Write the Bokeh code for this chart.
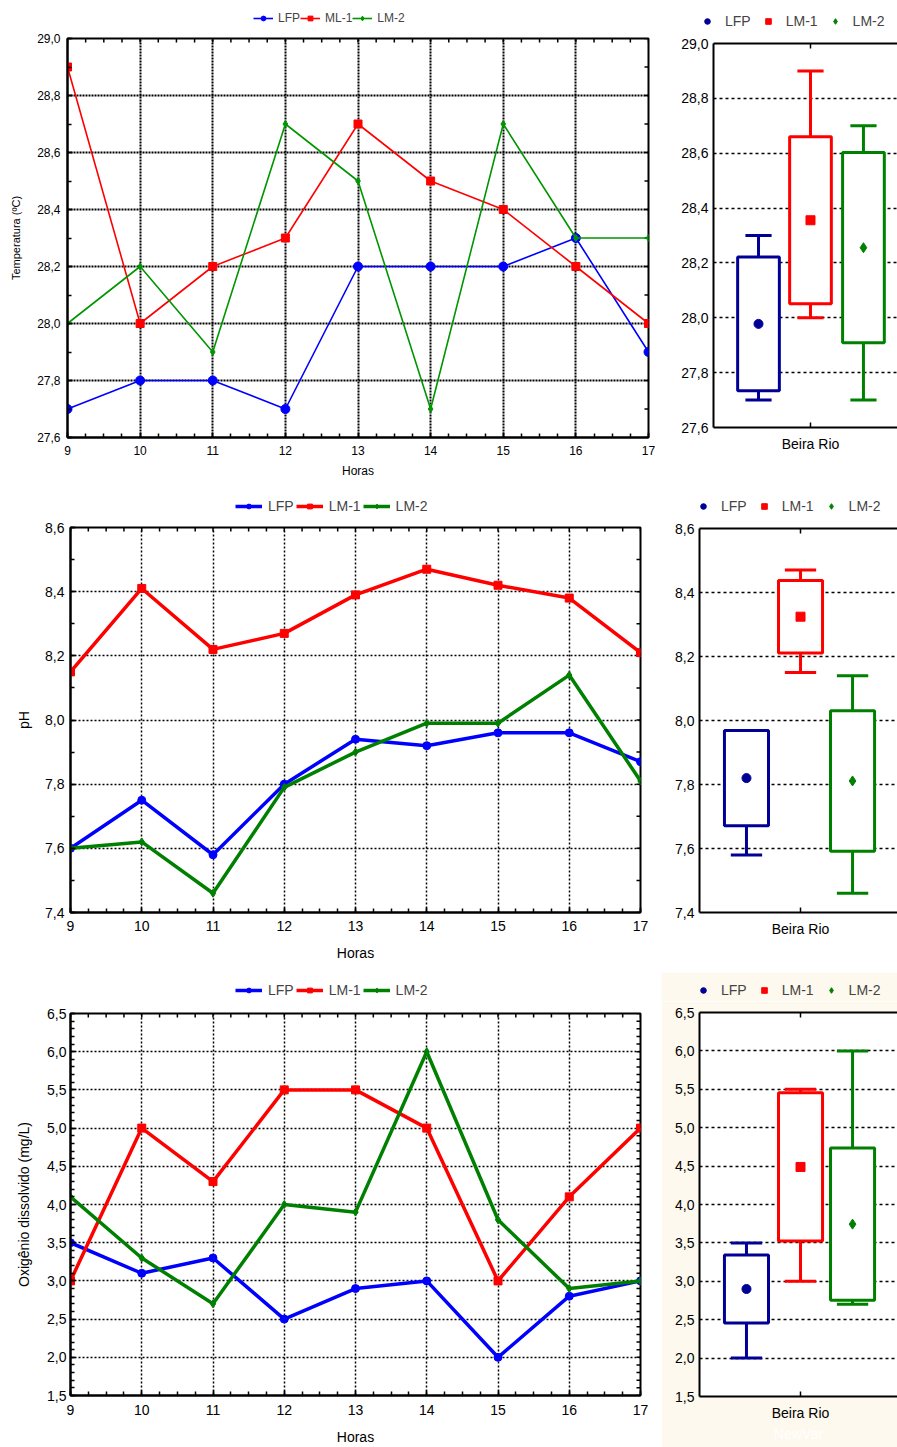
import numpy as np
from bokeh.plotting import figure
from bokeh.models import (FixedTicker, CustomJSTickFormatter, LinearAxis, Grid,
                          Legend, LegendItem, Range1d)
from bokeh.layouts import row, column
from bokeh.embed import file_html
from bokeh.resources import INLINE

# ---------------------------------------------------------------- data
hours = [9, 10, 11, 12, 13, 14, 15, 16, 17]
site = "Beira Rio"
series_names = ["LFP", "LM-1", "LM-2"]
temp_names = ["LFP", "ML-1", "LM-2"]

temp_lfp = [27.7, 27.8, 27.8, 27.7, 28.2, 28.2, 28.2, 28.3, 27.9]
temp_lm1 = [28.9, 28.0, 28.2, 28.3, 28.7, 28.5, 28.4, 28.2, 28.0]
temp_lm2 = [28.0, 28.2, 27.9, 28.7, 28.5, 27.7, 28.7, 28.3, 28.3]

ph_lfp = [7.60, 7.75, 7.58, 7.80, 7.94, 7.92, 7.96, 7.96, 7.87]
ph_lm1 = [8.15, 8.41, 8.22, 8.27, 8.39, 8.47, 8.42, 8.38, 8.21]
ph_lm2 = [7.60, 7.62, 7.46, 7.79, 7.90, 7.99, 7.99, 8.14, 7.81]

od_lfp = [3.5, 3.1, 3.3, 2.5, 2.9, 3.0, 2.0, 2.8, 3.0]
od_lm1 = [3.0, 5.0, 4.3, 5.5, 5.5, 5.0, 3.0, 4.1, 5.0]
od_lm2 = [4.1, 3.3, 2.7, 4.0, 3.9, 6.0, 3.8, 2.9, 3.0]

# ---------------------------------------------------------------- style
FONT = "Liberation Sans"
COMMA = "return tick.toFixed(1).replace('.', ',');"
INT = "return tick.toFixed(0);"
CREAM = "#fdf9ee"
NAN = float("nan")


def steps(start, stop, step):
    n = int(round((stop - start) / step))
    return [round(start + i * step, 4) for i in range(n + 1)]


def style_axis(ax, font_size, tick_in, minor_in, line_w):
    ax.axis_line_color = "black"
    ax.axis_line_width = line_w
    ax.major_tick_line_color = "black"
    ax.minor_tick_line_color = "black"
    ax.major_tick_line_width = 1.5
    ax.minor_tick_line_width = 1.5
    ax.major_tick_in = tick_in
    ax.major_tick_out = 0
    ax.minor_tick_in = minor_in
    ax.minor_tick_out = 0
    ax.major_label_text_font = FONT
    ax.major_label_text_font_size = font_size
    ax.major_label_text_color = "black"
    ax.axis_label_text_font = FONT
    ax.axis_label_text_font_style = "normal"
    ax.axis_label_text_color = "black"


def inward_ticks(p, xs, ys, length, angle):
    # short tick marks pointing into the frame from the top / right edges
    p.ray(x=xs, y=ys, length=length, angle=angle, length_units="screen",
          line_color="black", line_width=1.5)


def new_figure(cfg, x_range, br):
    p = figure(width=cfg["w"], height=cfg["h"] - cfg["lh"], x_range=x_range,
               y_range=Range1d(cfg["y0"], cfg["y1"]),
               x_axis_type=None, y_axis_type=None,
               output_backend="svg", toolbar_location=None,
               min_border_left=cfg["bl"], min_border_right=br,
               min_border_top=cfg["bt"], min_border_bottom=cfg["bb"])
    p.frame_align = False
    p.background_fill_color = "white"
    p.border_fill_color = cfg.get("bg", "white")
    return p


def legend_strip(cfg, entries, leg_kw):
    """Key strip drawn above a panel; each entry lists glyph styles for one series."""
    s = figure(width=cfg["w"], height=cfg["lh"], x_range=Range1d(0, 1),
               y_range=Range1d(0, 1), x_axis_type=None, y_axis_type=None,
               output_backend="svg", toolbar_location=None,
               min_border_left=0, min_border_right=0, min_border_top=0, min_border_bottom=0)
    s.frame_align = False
    s.outline_line_color = None
    s.background_fill_color = cfg.get("bg", "white")
    s.border_fill_color = cfg.get("bg", "white")
    s.grid.visible = False
    items = []
    for name, glyphs in entries:
        rs = []
        for kind, kw in glyphs:
            # key swatches only: a single undefined point, nothing plotted
            if kind == "line":
                rs.append(s.line(x=[NAN], y=[NAN], **kw))
            else:
                rs.append(s.scatter(x=[NAN], y=[NAN], **kw))
        items.append(LegendItem(label=name, renderers=rs))
    leg = Legend(items=items, orientation="horizontal",
                 label_text_font=FONT, padding=2, margin=0,
                 border_line_alpha=0, background_fill_alpha=0, **leg_kw)
    s.add_layout(leg, "center")
    return s


def line_chart(vals, names, colors, markers, sizes, cfg):
    p = new_figure(cfg, Range1d(hours[0], hours[-1]), cfg["br"])
    p.outline_line_color = "black"
    p.outline_line_width = cfg["frame_w"]

    x_minor = steps(hours[0], hours[-1], 0.25)
    y_major = steps(cfg["y0"], cfg["y1"], cfg["major"])
    y_minor = steps(cfg["y0"], cfg["y1"], cfg["minor"])
    xt = FixedTicker(ticks=hours, minor_ticks=x_minor)
    yt = FixedTicker(ticks=y_major, minor_ticks=y_minor)
    fs = cfg["fs"]

    xb = LinearAxis(ticker=xt, formatter=CustomJSTickFormatter(code=INT))
    style_axis(xb, fs, 5, 4, cfg["frame_w"])
    xb.axis_label = "Horas"
    xb.axis_label_text_font_size = fs
    xb.major_label_standoff = cfg["x_std"]
    xb.axis_label_standoff = cfg["xl_std"]
    p.add_layout(xb, "below")

    yl = LinearAxis(ticker=yt, formatter=CustomJSTickFormatter(code=COMMA))
    style_axis(yl, fs, 5, 4, cfg["frame_w"])
    yl.axis_label = cfg["ylabel"]
    yl.axis_label_text_font_size = cfg["yl_fs"]
    yl.major_label_standoff = cfg["y_std"]
    yl.axis_label_standoff = cfg["yl_std"]
    p.add_layout(yl, "left")

    for dim, tk in ((0, xt), (1, yt)):
        p.add_layout(Grid(dimension=dim, ticker=tk, grid_line_color="black",
                          grid_line_width=cfg["grid_w"],
                          grid_line_dash=cfg["grid_dash"]))

    inward_ticks(p, x_minor, [cfg["y1"]] * len(x_minor), 4, -np.pi / 2)
    inward_ticks(p, [hours[-1]] * len(y_minor), y_minor, 4, np.pi)

    entries = []
    for v, name, c, m, s in zip(vals, names, colors, markers, sizes):
        p.line(hours, v, line_color=c, line_width=cfg["lw"])
        p.scatter(hours, v, marker=m, size=s, fill_color=c, line_color=c)
        entries.append((name, [("line", dict(line_color=c, line_width=cfg["lw"])),
                               ("scatter", dict(marker=m, size=s, fill_color=c,
                                                line_color=c))]))

    strip = legend_strip(cfg, entries, dict(
        location=cfg["leg_loc"], label_text_font_size=cfg["leg_fs"],
        glyph_width=cfg["glyph_w"], glyph_height=12,
        label_height=cfg["leg_lh"], label_standoff=cfg["leg_std"],
        spacing=cfg["leg_sp"]))
    return column(strip, p)


def box_chart(vals, colors, markers, sizes, cfg):
    p = new_figure(cfg, Range1d(-1, cfg["xr"]), 0)
    p.outline_line_color = None

    yt = FixedTicker(ticks=steps(cfg["y0"], cfg["y1"], cfg["major"]), minor_ticks=[])
    ct = FixedTicker(ticks=[0], minor_ticks=[])
    fs = "14px"

    yl = LinearAxis(ticker=yt, formatter=CustomJSTickFormatter(code=COMMA))
    style_axis(yl, fs, 0, 0, 2)
    yl.major_label_standoff = 5
    p.add_layout(yl, "left")

    xb = LinearAxis(ticker=ct, major_label_overrides={0: site})
    style_axis(xb, fs, 5, 0, 2)
    xb.major_label_standoff = 8
    if cfg.get("xlabel"):
        xb.axis_label = cfg["xlabel"]
        xb.axis_label_text_color = "white"
        xb.axis_label_text_font_size = fs
        xb.axis_label_standoff = 2
    p.add_layout(xb, "below")

    # top edge of the frame with its category tick
    xa = LinearAxis(ticker=ct, major_label_overrides={0: ""})
    style_axis(xa, "1px", 5, 0, 2)
    xa.major_label_standoff = 0
    p.add_layout(xa, "above")

    p.add_layout(Grid(dimension=1, ticker=yt, grid_line_color="black",
                      grid_line_width=1.5, grid_line_dash="3 3"))

    offsets = cfg["offsets"]
    bw, cw = cfg["box_w"], cfg["cap_w"]
    entries = []
    for v, name, c, m, s, x in zip(vals, series_names, colors, markers, sizes, offsets):
        a = np.array(v, dtype=float)
        mean = a.mean()
        sd = a.std(ddof=1)
        lo, hi = mean - sd, mean + sd
        mn, mx = a.min(), a.max()
        # whiskers to min / max, only where they reach past the box
        if mx > hi:
            p.segment([x], [hi], [x], [mx], line_color=c, line_width=3)
            p.segment([x - cw / 2], [mx], [x + cw / 2], [mx], line_color=c, line_width=3)
        if mn < lo:
            p.segment([x], [mn], [x], [lo], line_color=c, line_width=3)
            p.segment([x - cw / 2], [mn], [x + cw / 2], [mn], line_color=c, line_width=3)
        # mean +/- SD box
        p.vbar(x=[x], width=bw, bottom=[lo], top=[hi], fill_color="white",
               line_color=c, line_width=3)
        p.scatter([x], [mean], marker=m, size=s, fill_color=c, line_color=c)
        entries.append((name, [("scatter", dict(marker=m, size=s, fill_color=c,
                                                line_color=c))]))

    strip = legend_strip(cfg, entries, dict(
        location=cfg["leg_loc"], label_text_font_size=fs,
        glyph_width=14, glyph_height=14, label_height=16,
        label_standoff=11, spacing=10))
    return column(strip, p)


line_colors_1 = ["#0000ff", "#ff0000", "#009600"]
line_colors = ["#0000ff", "#ff0000", "#008000"]
box_colors = ["#000096", "#ff0000", "#008000"]
line_markers = ["circle", "square", "diamond"]

# ---------------------------------------------------------------- row 1: temperature
t_line = line_chart([temp_lfp, temp_lm1, temp_lm2], temp_names, line_colors_1,
                    line_markers, [9, 8, 7],
                    dict(w=655, h=485, lh=28, y0=27.6, y1=29.0, major=0.2, minor=0.1,
                         bl=67, br=7, bt=10, bb=48, frame_w=2, fs="12px",
                         x_std=8, xl_std=6, y_std=7, yl_std=12, yl_fs="11px",
                         ylabel="Temperatura (\u00baC)", grid_w=2, grid_dash="2 1",
                         lw=1.6, leg_loc=(251, 1), leg_fs="12px", leg_lh=14,
                         glyph_w=20, leg_std=5, leg_sp=0))
t_box = box_chart([temp_lfp, temp_lm1, temp_lm2], box_colors, line_markers, [9, 9, 10],
                  dict(w=242, h=485, lh=32, xr=0.897, y0=27.6, y1=29.0, major=0.2,
                       bl=58, bt=11, bb=58, offsets=[-0.536, 0.0, 0.546],
                       box_w=0.43, cap_w=0.27, leg_loc=(43, 1)))

# ---------------------------------------------------------------- row 2: pH
p_line = line_chart([ph_lfp, ph_lm1, ph_lm2], series_names, line_colors,
                    line_markers, [8, 8, 8],
                    dict(w=661, h=487, lh=32, y0=7.4, y1=8.6, major=0.2, minor=0.1,
                         bl=70, br=21, bt=10, bb=60, frame_w=2, fs="14px",
                         x_std=8, xl_std=11, y_std=6, yl_std=10, yl_fs="14px",
                         ylabel="pH", grid_w=1.5, grid_dash="2 2",
                         lw=3.5, leg_loc=(233, 1), leg_fs="14px", leg_lh=16,
                         glyph_w=27, leg_std=6, leg_sp=2))
p_box = box_chart([ph_lfp, ph_lm1, ph_lm2], box_colors, line_markers, [9, 9, 10],
                  dict(w=236, h=487, lh=32, xr=0.96, y0=7.4, y1=8.6, major=0.2,
                       bl=38, bt=11, bb=60, offsets=[-0.535, 0.0, 0.515],
                       box_w=0.436, cap_w=0.31, leg_loc=(33, 1)))

# ---------------------------------------------------------------- row 3: dissolved oxygen
o_line = line_chart([od_lfp, od_lm1, od_lm2], series_names, line_colors,
                    line_markers, [8, 8, 8],
                    dict(w=661, h=475, lh=29, y0=1.5, y1=6.5, major=0.5, minor=0.1,
                         bl=70, br=21, bt=12, bb=51, frame_w=2, fs="14px",
                         x_std=9, xl_std=11, y_std=4, yl_std=12, yl_fs="14px",
                         ylabel="Oxig\u00eanio dissolvido (mg/L)", grid_w=1.5,
                         grid_dash="2 2", lw=3.5, leg_loc=(233, 1), leg_fs="14px",
                         leg_lh=16, glyph_w=27, leg_std=6, leg_sp=2))
o_box = box_chart([od_lfp, od_lm1, od_lm2], box_colors, line_markers, [9, 9, 10],
                  dict(w=236, h=475, lh=29, xr=0.96, y0=1.5, y1=6.5, major=0.5,
                       bl=38, bt=11, bb=51, offsets=[-0.535, 0.0, 0.515],
                       box_w=0.436, cap_w=0.31, leg_loc=(33, 1), bg=CREAM,
                       xlabel="NewVar"))

layout = column(row(t_line, t_box), row(p_line, p_box), row(o_line, o_box))

with open("out.html", "w") as f:
    f.write(file_html(layout, INLINE))
